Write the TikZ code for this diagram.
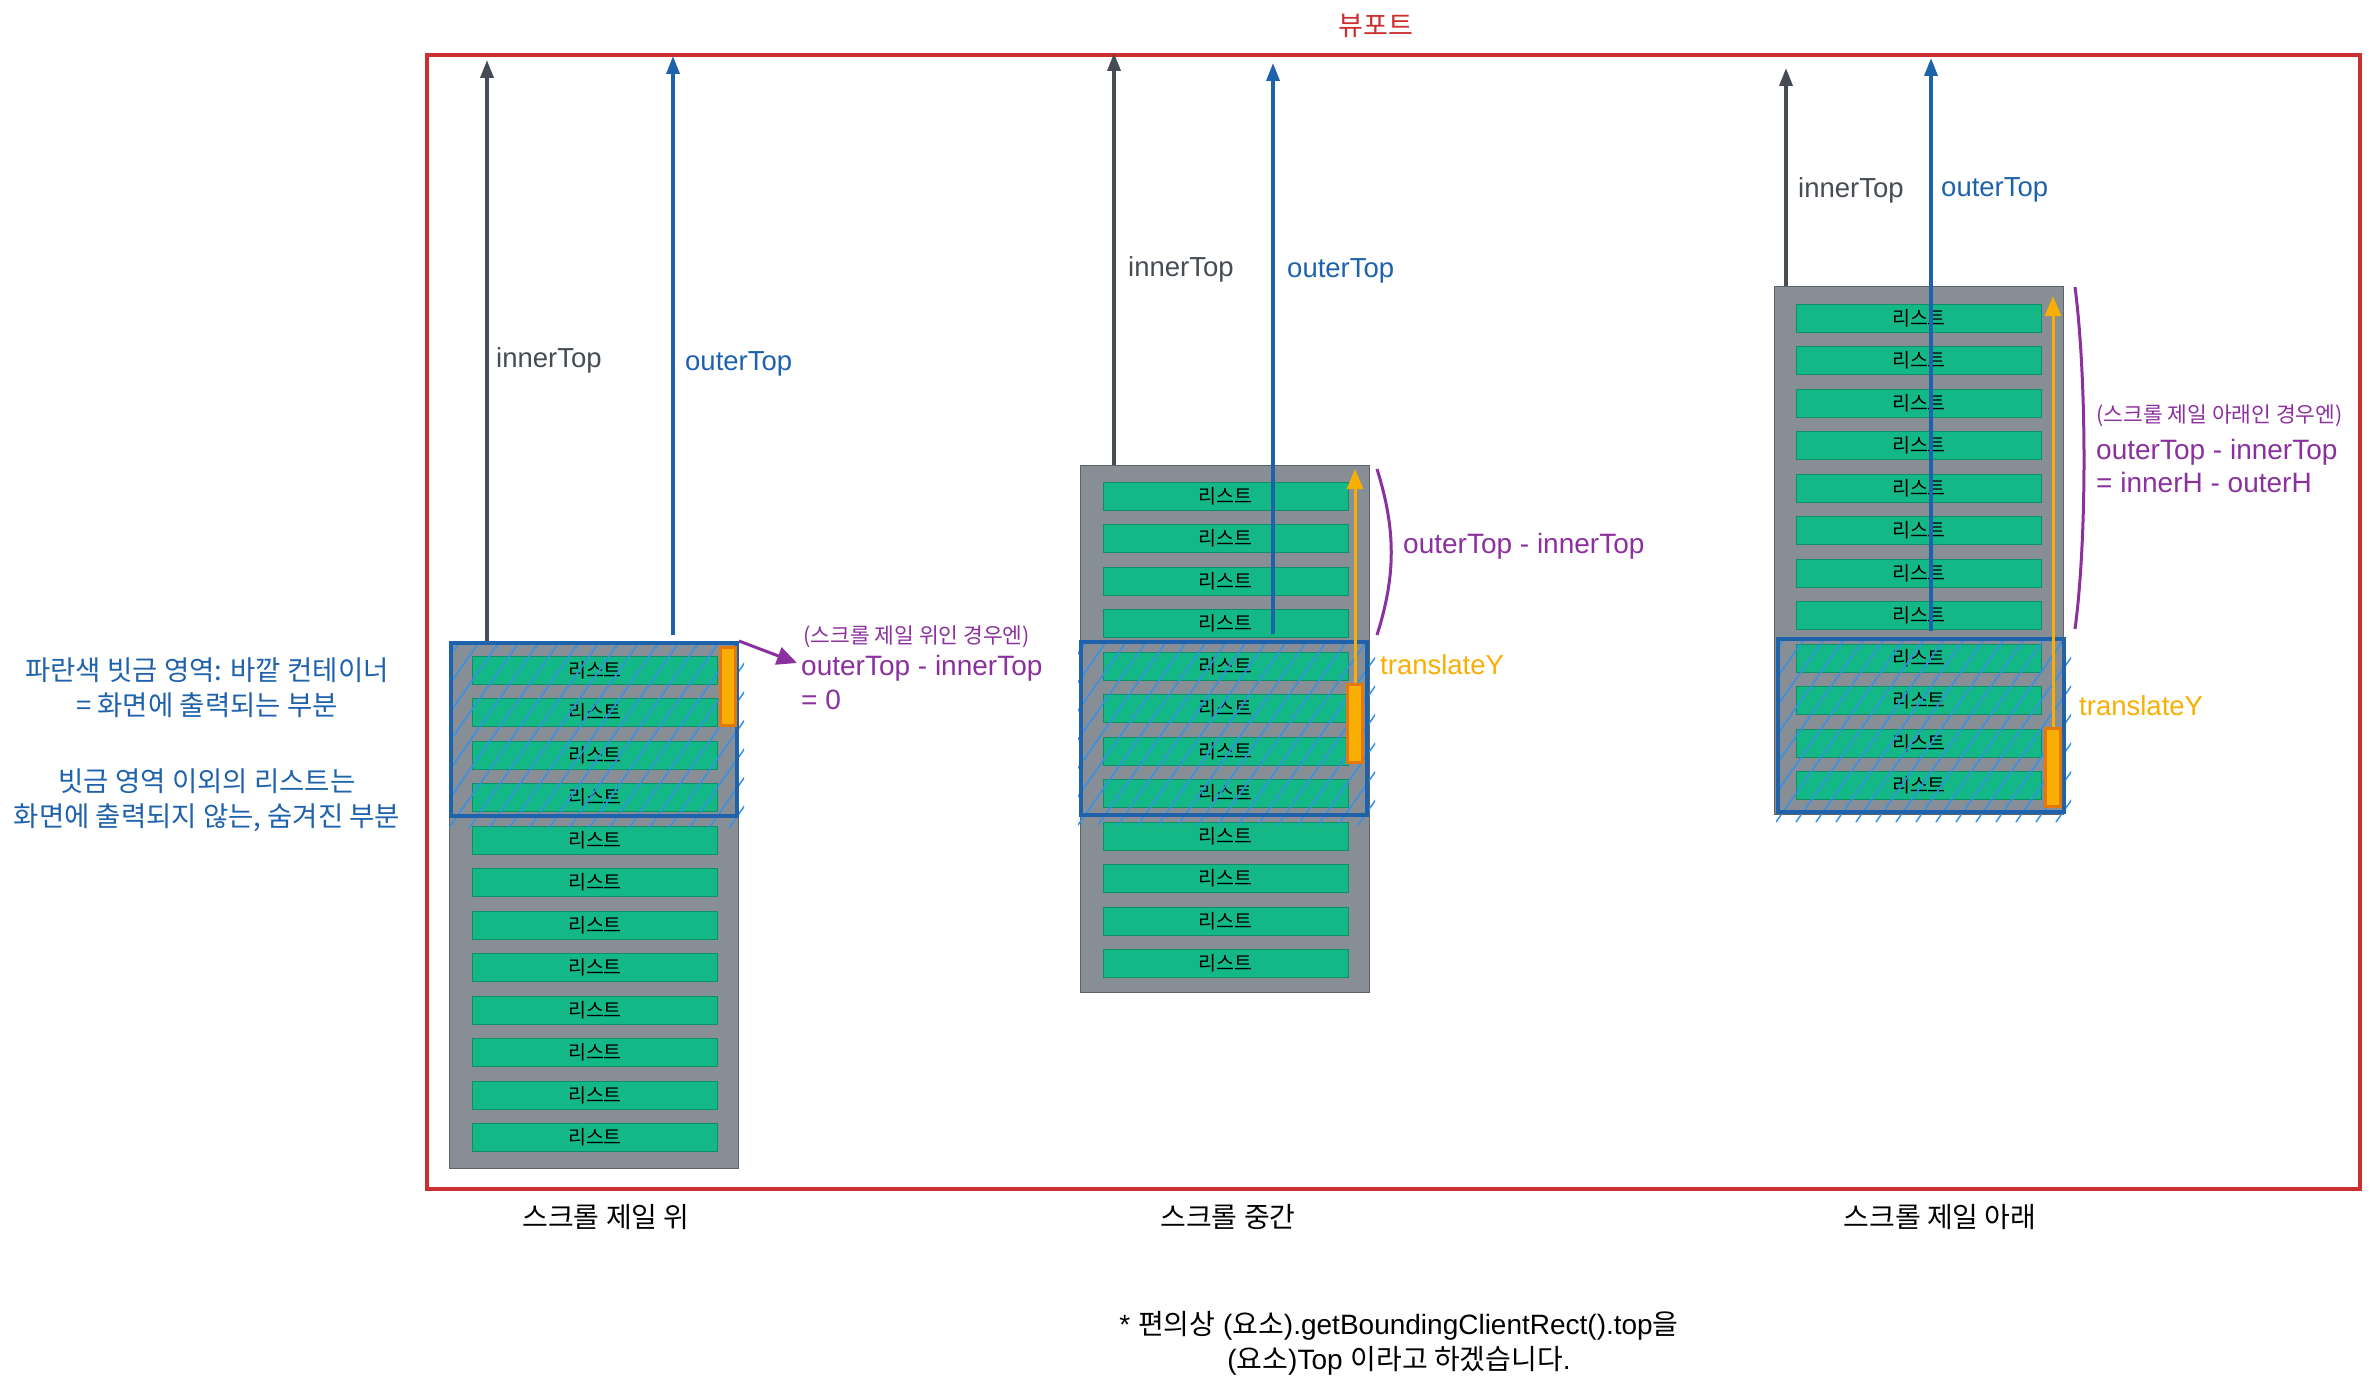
\documentclass[tikz,border=0pt]{standalone}
\usepackage{fontspec}
\setmainfont{Liberation Sans}
\newfontfamily\kr{Noto Sans CJK KR}
\usepackage{tikz}
\usetikzlibrary{arrows.meta,positioning}
\definecolor{viewred}{HTML}{CC2F2F}
\definecolor{boxgray}{HTML}{878E95}
\definecolor{boxedge}{HTML}{5C6369}
\definecolor{itemgreen}{HTML}{13B886}
\definecolor{itemedge}{HTML}{0E8F66}
\definecolor{arrowgray}{HTML}{464C53}
\definecolor{darkblue}{HTML}{1F62AC}
\definecolor{hatchblue}{HTML}{3590E6}
\definecolor{barorange}{HTML}{F9AE04}
\definecolor{baredge}{HTML}{E5780C}
\definecolor{notepurple}{HTML}{8B309E}

\begin{document}
\begin{tikzpicture}[x=1pt,y=-1pt]
    \useasboundingbox (0,0) rectangle (2371,1388);
    \tikzstyle{view_port}=[draw=viewred,line width=4pt,minimum width=1933pt,minimum height=1134pt,inner sep=0pt]
    \tikzstyle{inner_box}=[draw=boxedge,fill=boxgray,line width=1pt,minimum width=289pt,minimum height=527pt,inner sep=0pt]
    \tikzstyle{list_item}=[draw=itemedge,fill=itemgreen,line width=1pt,minimum width=245pt,minimum height=28pt,inner sep=0pt,font=\kr\fontsize{19.5}{22}\selectfont]
    \tikzstyle{outer_box}=[draw=darkblue,line width=4pt,minimum width=286pt,minimum height=173pt,inner sep=0pt]
    \tikzstyle{hatch}=[hatchblue,line width=1.5pt]
    \tikzstyle{scroll_bar}=[draw=baredge,fill=barorange,line width=3pt,minimum width=15pt,minimum height=78pt,inner sep=0pt]
    \tikzstyle{inner_arrow}=[-{Triangle[length=18pt,width=13pt]},arrowgray,line width=3.5pt]
    \tikzstyle{outer_arrow}=[-{Triangle[length=18pt,width=13pt]},darkblue,line width=3.5pt,shorten <=6pt]
    \tikzstyle{shift_arrow}=[-{Triangle[length=20pt,width=16pt]},barorange,line width=3pt]
    \tikzstyle{brace_line}=[notepurple,line width=3pt]
    \tikzstyle{inner_label}=[anchor=west,inner sep=0pt,text=arrowgray,font=\fontsize{27.5}{31}\selectfont]
    \tikzstyle{outer_label}=[anchor=west,inner sep=0pt,text=darkblue,font=\fontsize{27.5}{31}\selectfont]
    \tikzstyle{shift_label}=[anchor=west,inner sep=0pt,text=barorange,font=\fontsize{27.5}{32}\selectfont]
    \tikzstyle{note_small}=[anchor=west,inner sep=0pt,text=notepurple,font=\kr\fontsize{21.5}{24}\selectfont]
    \tikzstyle{note_text}=[anchor=west,inner sep=0pt,text=notepurple,align=left]
    \tikzstyle{case_label}=[inner sep=0pt,font=\kr\fontsize{28}{32}\selectfont]
    \tikzstyle{side_note}=[inner sep=0pt,text=darkblue,align=center,font=\kr\fontsize{27.5}{35}\selectfont]

    % viewport
    \node[view_port] (viewport) at (1393.5,622) {};
    \node[inner sep=0pt,text=viewred,font=\kr\fontsize{27}{30}\selectfont] (viewport_label) at (1376,26) {뷰포트};

    % inner containers
    \node[inner_box] (inner_1) at (594,905) {};
    \node[inner_box] (inner_2) at (1225,728.5) {};
    \node[inner_box] (inner_3) at (1919,550.5) {};

    \foreach \i in {0,...,11} {
        \node[list_item] (item_1_\i) at (595,670+42.5*\i) {리스트};
        \node[list_item] (item_2_\i) at (1225.5,496+42.5*\i) {리스트};
        \node[list_item] (item_3_\i) at (1919,318+42.5*\i) {리스트};
    }

    % hatching of the outer containers
    \begin{scope}
        \clip (449,641) rectangle (744,828);
        \foreach \d in {-160,-140,...,300} \draw[hatch] (449+\d,828) -- ++(140,-200);
    \end{scope}
    \begin{scope}
        \clip (1078,640) rectangle (1375,825);
        \foreach \d in {-160,-140,...,300} \draw[hatch] (1078+\d,825) -- ++(140,-200);
    \end{scope}
    \begin{scope}
        \clip (1776,637) rectangle (2071,822);
        \foreach \d in {-160,-140,...,300} \draw[hatch] (1776+\d,822) -- ++(140,-200);
    \end{scope}

    % outer containers
    \node[outer_box] (outer_1) at (594,729.5) {};
    \node[outer_box] (outer_2) at (1224,728) {};
    \node[outer_box] (outer_3) at (1921,725) {};

    \node[scroll_bar] (bar_1) at (727.5,686.5) {};
    \node[scroll_bar] (bar_2) at (1355,723) {};
    \node[scroll_bar] (bar_3) at (2053,767) {};

    % arrows to the top of the viewport
    \coordinate (inner_top_1) at (487,60);
    \coordinate (outer_top_1) at (673,56);
    \coordinate (inner_top_2) at (1114,53);
    \coordinate (outer_top_2) at (1273,63);
    \coordinate (inner_top_3) at (1786,68);
    \coordinate (outer_top_3) at (1931,58);
    \draw[inner_arrow] (inner_1.north -| inner_top_1) -- (inner_top_1);
    \draw[outer_arrow] (outer_1.north -| outer_top_1) -- (outer_top_1);
    \draw[inner_arrow] (inner_2.north -| inner_top_2) -- (inner_top_2);
    \draw[outer_arrow] (outer_2.north -| outer_top_2) -- (outer_top_2);
    \draw[inner_arrow] (inner_3.north -| inner_top_3) -- (inner_top_3);
    \draw[outer_arrow] (outer_3.north -| outer_top_3) -- (outer_top_3);

    \node[inner_label] (inner_text_1) at (496,360) {innerTop};
    \node[outer_label] (outer_text_1) at (685,364) {outerTop};
    \node[inner_label] (inner_text_2) at (1128,269) {innerTop};
    \node[outer_label] (outer_text_2) at (1287,271) {outerTop};
    \node[inner_label] (inner_text_3) at (1798,190) {innerTop};
    \node[outer_label] (outer_text_3) at (1941,190) {outerTop};

    % translateY
    \coordinate (shift_tip_2) at (1355,469);
    \coordinate (shift_tip_3) at (2053,296);
    \draw[shift_arrow] (bar_2.north) -- (shift_tip_2);
    \draw[shift_arrow] (bar_3.north) -- (shift_tip_3);
    \node[shift_label] (shift_text_2) at (1380,665) {translateY};
    \node[shift_label] (shift_text_3) at (2079,706) {translateY};

    % notes
    \coordinate (note_tip_1) at (797,663);
    \draw[-{Triangle[length=20pt,width=18pt]},notepurple,line width=3pt] (outer_1.north east) -- (note_tip_1);
    \node[note_small] (case_top) at (803,637) {(스크롤 제일 위인 경우엔)};
    \node[note_text,font=\fontsize{28}{34}\selectfont] (diff_top) at (801,682) {outerTop - innerTop\\= 0};

    \draw[brace_line] (1377,469) .. controls (1396,530) and (1396,575) .. (1377,635);
    \node[note_text,font=\fontsize{28}{32}\selectfont] (diff_mid) at (1403,546) {outerTop - innerTop};

    \draw[brace_line] (2075,287) .. controls (2087,380) and (2087,540) .. (2075,629);
    \node[note_small] (case_bottom) at (2096,416) {(스크롤 제일 아래인 경우엔)};
    \node[note_text,font=\fontsize{28}{33}\selectfont] (diff_bottom) at (2096,465.5) {outerTop - innerTop\\= innerH - outerH};

    \node[side_note] (side_1) at (207,687.5) {파란색 빗금 영역: 바깥 컨테이너\\= 화면에 출력되는 부분};
    \node[side_note] (side_2) at (207,800.5) {빗금 영역 이외의 리스트는\\화면에 출력되지 않는, 숨겨진 부분};

    \node[case_label] (case_1) at (606,1217) {스크롤 제일 위};
    \node[case_label] (case_2) at (1228,1217) {스크롤 중간};
    \node[case_label] (case_3) at (1940,1217) {스크롤 제일 아래};

    \node[inner sep=0pt,align=center,font=\fontsize{28}{35}\selectfont] (foot_note) at (1399,1343)
        {* {\kr 편의상} ({\kr 요소}).getBoundingClientRect().top{\kr 을}\\({\kr 요소})Top {\kr 이라고 하겠습니다}.};
\end{tikzpicture}
\end{document}
